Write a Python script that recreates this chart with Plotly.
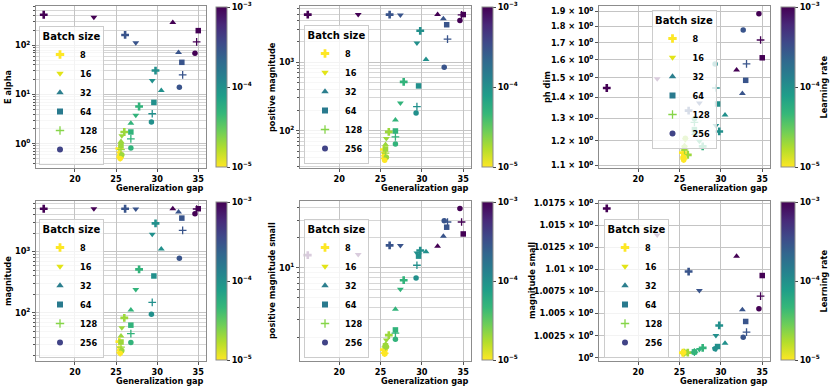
import numpy as np
import plotly.graph_objects as go

W, H = 830, 388

BATCH_SIZES = [8, 16, 32, 64, 128, 256]
LEARNING_RATES = [1e-3, 3e-4, 1e-4, 5e-5, 2e-5, 1e-5]

# rows follow LEARNING_RATES, columns follow BATCH_SIZES
gen_gap = [
    [16.2, 22.3, 31.9, 35.0, 34.8, 34.6],
    [26.1, 27.4, 32.6, 33.0, 33.1, 32.7],
    [29.8, 29.4, 30.5, 29.6, 29.4, 29.3],
    [27.8, 27.4, 26.8, 26.8, 26.8, 26.8],
    [26.0, 25.7, 25.6, 25.6, 25.6, 25.7],
    [25.4, 25.4, 25.4, 25.5, 25.5, 25.5],
]
e_alpha = [
    [416, 370, 288, 198, 117, 69],
    [162, 113, 71, 45, 25, 14],
    [30.6, 19.2, 12, 6.9, 4.06, 2.75],
    [5.7, 3.8, 2.6, 1.73, 1.25, 0.82],
    [1.73, 1.45, 1.11, 0.91, 0.76, 0.6],
    [0.8, 0.65, 0.58, 0.55, 0.52, 0.5],
]
positive_magnitude = [
    [4950, 4950, 4950, 4950, 4900, 4060],
    [4950, 4900, 4300, 3520, 2170, 845],
    [2870, 1900, 1090, 450, 224, 181],
    [515, 254, 143, 99, 81, 64],
    [96, 77, 63, 54, 47, 41],
    [53, 47, 44, 41, 39, 37],
]
ph_dim = [
    [1.447, 1.495, 1.542, 1.611, 1.716, 1.883],
    [1.335, 1.372, 1.419, 1.487, 1.576, 1.778],
    [1.24, 1.267, 1.315, 1.367, 1.447, 1.576],
    [1.176, 1.197, 1.231, 1.248, 1.281, 1.297],
    [1.141, 1.204, 1.18, 1.17, 1.16, 1.21],
    [1.15, 1.145, 1.135, 1.13, 1.125, 1.12],
]
magnitude = [
    [5000, 5000, 5000, 5000, 4950, 4140],
    [5000, 4950, 4420, 3515, 2210, 777],
    [2880, 1925, 1105, 400, 148, 95],
    [513, 241, 111, 63, 46, 33],
    [83, 57, 42, 33.5, 27.7, 24.4],
    [34, 27, 25, 23.5, 22.5, 22],
]
positive_magnitude_small = [
    [13.4, 13.6, 16.5, 21.9, 28.9, 39.4],
    [16.8, 16.8, 20.8, 25.6, 28.9, 29.8],
    [14.9, 14.1, 14.5, 13.1, 10.6, 7.9],
    [7.5, 6.07, 3.82, 2.37, 2.2, 1.91],
    [2.1, 1.88, 1.7, 1.64, 1.6, 1.6],
    [1.5, 1.45, 1.42, 1.4, 1.38, 1.36],
]
magnitude_small = [
    [1.01692, 1.0139, 1.01147, 1.00929, 1.00695, 1.00553],
    [1.00974, 1.00759, 1.00541, 1.0041, 1.0029, 1.00233],
    [1.00365, 1.00252, 1.00165, 1.00128, 1.00113, 1.00102],
    [1.00113, 1.00094, 1.0007, 1.00068, 1.00066, 1.00064],
    [1.0006, 1.00062, 1.0006, 1.00061, 1.0006, 1.0006],
    [1.00058, 1.00058, 1.00059, 1.00059, 1.0006, 1.0006],
]

ph_ticks = [1.1, 1.2, 1.3, 1.4, 1.5, 1.6, 1.7, 1.8, 1.9]
msmall_ticks = [1.0, 1.0025, 1.005, 1.0075, 1.01, 1.0125, 1.015, 1.0175]

SYMBOLS = ['cross', 'triangle-down', 'triangle-up', 'square', 'cross-thin', 'circle']
SIZES = [6.5, 6, 6, 5.5, 5.5, 5.5]
LEGEND_COLORS = ['#fde725', '#e2e418', '#2c7f8e', '#297a8e', '#86d549', '#414487']


def X(px):
    return px / W


def Y(py):
    return 1 - py / H


def sup(e):
    return '10<sup>%s</sup>' % str(e).replace('-', '\u2212')


def log_minor(lo, hi):
    vals = []
    for d in range(int(np.floor(lo)) - 1, int(np.ceil(hi)) + 1):
        for m in range(2, 10):
            v = m * 10.0 ** d
            if lo <= np.log10(v) <= hi:
                vals.append(v)
    return vals


cols = [(36, 206), (300, 471), (599, 770)]
rows = [(6, 168), (201, 361)]
cbar_x = [(216, 11), (482, 11), (781, 14)]

panels = [
    dict(data=e_alpha, title='E alpha', yr=[-0.493, 2.797], major=[1, 10, 100], lab=[sup(0), sup(1), sup(2)],
         ytx=8, leg=dict(x=X(39), y=Y(165), xanchor='left', yanchor='bottom')),
    dict(data=positive_magnitude, title='positive magnitude', yr=[1.455, 3.82], major=[100, 1000],
         lab=[sup(2), sup(3)], ytx=272, leg=dict(x=X(304), y=Y(164), xanchor='left', yanchor='bottom')),
    dict(data=ph_dim, title='ph dim', yr=[0.037, 0.287], major=ph_ticks,
         lab=['%.1f \u00d7 %s' % (v, sup(0)) for v in ph_ticks], ytx=547, minor=False,
         leg=dict(x=X(684), y=Y(10), xanchor='center', yanchor='top')),
    dict(data=magnitude, title='magnitude', yr=[1.215, 3.825], major=[100, 1000], lab=[sup(2), sup(3)],
         ytx=8, leg=dict(x=X(39), y=Y(358), xanchor='left', yanchor='bottom')),
    dict(data=positive_magnitude_small, title='positive magnitude small', yr=[0.062, 1.672], major=[10],
         lab=[sup(1)], ytx=272, leg=dict(x=X(304), y=Y(358), xanchor='left', yanchor='bottom')),
    dict(data=magnitude_small, title='magnitude small', yr=[-0.00015, 0.00765], major=msmall_ticks,
         lab=[sup(0) if v == 1.0 else ('%g \u00d7 %s' % (v, sup(0))) for v in msmall_ticks], ytx=532,
         minor=False, leg=dict(x=X(604), y=Y(358), xanchor='left', yanchor='bottom')),
]

fig = go.Figure()
layout = dict(width=W, height=H, margin=dict(l=0, r=0, t=0, b=0, autoexpand=False),
              paper_bgcolor='white', plot_bgcolor='white',
              font=dict(family='DejaVu Sans', size=8.2, color='black', weight='bold'),
              annotations=[])

lr_log = np.log10(LEARNING_RATES)
gaps = np.array(gen_gap)

for k, p in enumerate(panels):
    r, c = divmod(k, 3)
    n = k + 1
    xa, ya = 'x%d' % n if n > 1 else 'x', 'y%d' % n if n > 1 else 'y'
    ca = 'coloraxis%d' % n if n > 1 else 'coloraxis'
    lg = 'legend%d' % n if n > 1 else 'legend'
    vals = np.array(p['data'])
    for j, bs in enumerate(BATCH_SIZES):
        marker = dict(symbol=SYMBOLS[j], size=SIZES[j], color=lr_log, coloraxis=ca, line=dict(width=0))
        if SYMBOLS[j] == 'cross-thin':
            marker['line'] = dict(width=1.3, color=lr_log, coloraxis=ca)
        fig.add_trace(go.Scatter(x=gaps[:, j], y=vals[:, j], mode='markers', marker=marker,
                                 xaxis=xa, yaxis=ya, showlegend=False, hoverinfo='skip'))
    for j, bs in enumerate(BATCH_SIZES):
        mk = dict(symbol=SYMBOLS[j], size=SIZES[j] + 0.5, color=LEGEND_COLORS[j], line=dict(width=0))
        if SYMBOLS[j] == 'cross-thin':
            mk['line'] = dict(width=1.3, color=LEGEND_COLORS[j])
        fig.add_trace(go.Scatter(x=[None], y=[None], mode='markers', marker=mk, name=str(bs),
                                 xaxis=xa, yaxis=ya, legend=lg, showlegend=True))

    x0, x1 = cols[c]
    y0, y1 = rows[r]
    axkey = 'xaxis%d' % n if n > 1 else 'xaxis'
    aykey = 'yaxis%d' % n if n > 1 else 'yaxis'
    layout[axkey] = dict(domain=[X(x0), X(x1)], range=[15.26, 35.94], anchor=ya, automargin=False,
                         tickvals=[20, 25, 30, 35], showgrid=True, gridcolor='#c4c4c4', gridwidth=1,
                         zeroline=False, showline=True, mirror=True, linecolor='#8c8c8c', linewidth=1,
                         ticks='outside', ticklen=3, tickcolor='#555')
    yax = dict(domain=[Y(y1), Y(y0)], type='log', range=p['yr'], anchor=xa, automargin=False,
               tickvals=p['major'], ticktext=p['lab'], showgrid=True, gridcolor='#c4c4c4', gridwidth=1,
               zeroline=False, showline=True, mirror=True, linecolor='#8c8c8c', linewidth=1,
               ticks='outside', ticklen=3, tickcolor='#555')
    if p.get('minor', True):
        yax['minor'] = dict(tickvals=log_minor(*p['yr']), showgrid=True, gridcolor='#d6d6d6',
                            gridwidth=1, ticks='outside', ticklen=2, tickcolor='#555')
    layout[aykey] = yax

    cx, cw = cbar_x[c]
    layout[ca] = dict(cmin=-5, cmax=-3, colorscale='Viridis', reversescale=True,
                      colorbar=dict(x=X(cx), xanchor='left', y=Y((y0 + y1) / 2), yanchor='middle',
                                    len=(y1 - y0 - 2) / H, lenmode='fraction', thickness=cw,
                                    thicknessmode='pixels', outlinewidth=1, outlinecolor='#8c8c8c',
                                    xpad=0, ypad=0, tickvals=[-5, -4, -3],
                                    ticktext=[sup(-5), sup(-4), sup(-3)], ticks='outside', ticklen=3,
                                    tickfont=dict(size=8.2)))
    layout[lg] = dict(title=dict(text='Batch size', side='top center'), bgcolor='rgba(255,255,255,0.8)',
                      bordercolor='#cccccc', borderwidth=1, itemwidth=30, tracegroupgap=0, **p['leg'])

    # axis titles
    layout['annotations'].append(dict(text='Generalization gap', xref='paper', yref='paper',
                                      x=X(x1), y=Y(y1 + 20), xanchor='right', yanchor='middle',
                                      showarrow=False))
    layout['annotations'].append(dict(text=p['title'], xref='paper', yref='paper', textangle=-90,
                                      x=X(p['ytx']), y=Y((y0 + y1) / 2), xanchor='center',
                                      yanchor='middle', showarrow=False))
    if c == 2:
        layout['annotations'].append(dict(text='Learning rate', xref='paper', yref='paper', textangle=-90,
                                          x=X(823.5), y=Y((y0 + y1) / 2), xanchor='center',
                                          yanchor='middle', showarrow=False))

fig.update_layout(**layout)
# the page's default body margin would shift the figure by 8px
fig.write_html("out.html", config={'displayModeBar': False},
               post_script="document.body.style.margin='0';")
